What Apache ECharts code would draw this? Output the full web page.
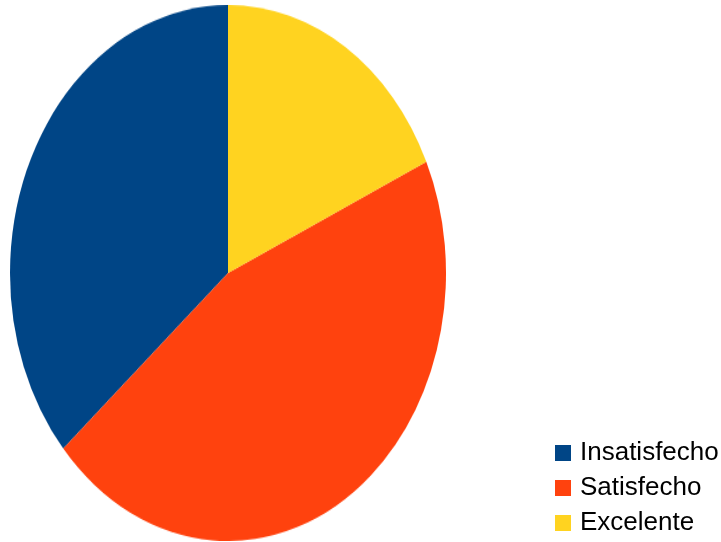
<!DOCTYPE html>
<html><head><meta charset="utf-8">
<script src="https://cdn.jsdelivr.net/npm/echarts@6/dist/echarts.min.js"></script>
<style>
html,body{margin:0;padding:0;background:#fff;}
#wrap{position:relative;width:721px;height:542px;overflow:hidden;}
#pie{position:absolute;left:10px;top:55px;width:436px;height:436px;transform:scaleY(1.2294);transform-origin:50% 50%;}
#leg{position:absolute;left:0;top:0;width:721px;height:700px;}
</style></head>
<body><div id="wrap"><div id="pie"></div><div id="leg"></div></div>
<script>
const categories = ["Insatisfecho", "Satisfecho", "Excelente"];
const values = [4, 5, 2];
const colors = ["#004586", "#ff420e", "#ffd320"];

const data = categories.map((c, i) => ({ name: c, value: values[i], itemStyle: { color: colors[i] } }));

const pie = echarts.init(document.getElementById('pie'), null, { renderer: 'canvas' });
pie.setOption({
  animation: false,
  series: [{
    type: 'pie',
    center: ['50%', '50%'],
    radius: [0, 218],
    startAngle: 90,
    clockwise: false,
    label: { show: false },
    labelLine: { show: false },
    silent: true,
    itemStyle: { borderWidth: 0 },
    data: data
  }]
});

const leg = echarts.init(document.getElementById('leg'), null, { renderer: 'canvas' });
leg.setOption({
  animation: false,
  legend: {
    orient: 'vertical',
    left: 555,
    top: 440,
    padding: 0,
    icon: 'rect',
    itemWidth: 16,
    itemHeight: 16,
    itemGap: 9,
    textStyle: { fontFamily: 'Liberation Sans', fontSize: 26, lineHeight: 26, color: '#000', padding: [0, 0, 0, 4] },
    data: categories
  },
  series: [{
    type: 'pie',
    radius: [0, 0],
    silent: true,
    label: { show: false },
    labelLine: { show: false },
    data: data
  }]
});
</script></body></html>
